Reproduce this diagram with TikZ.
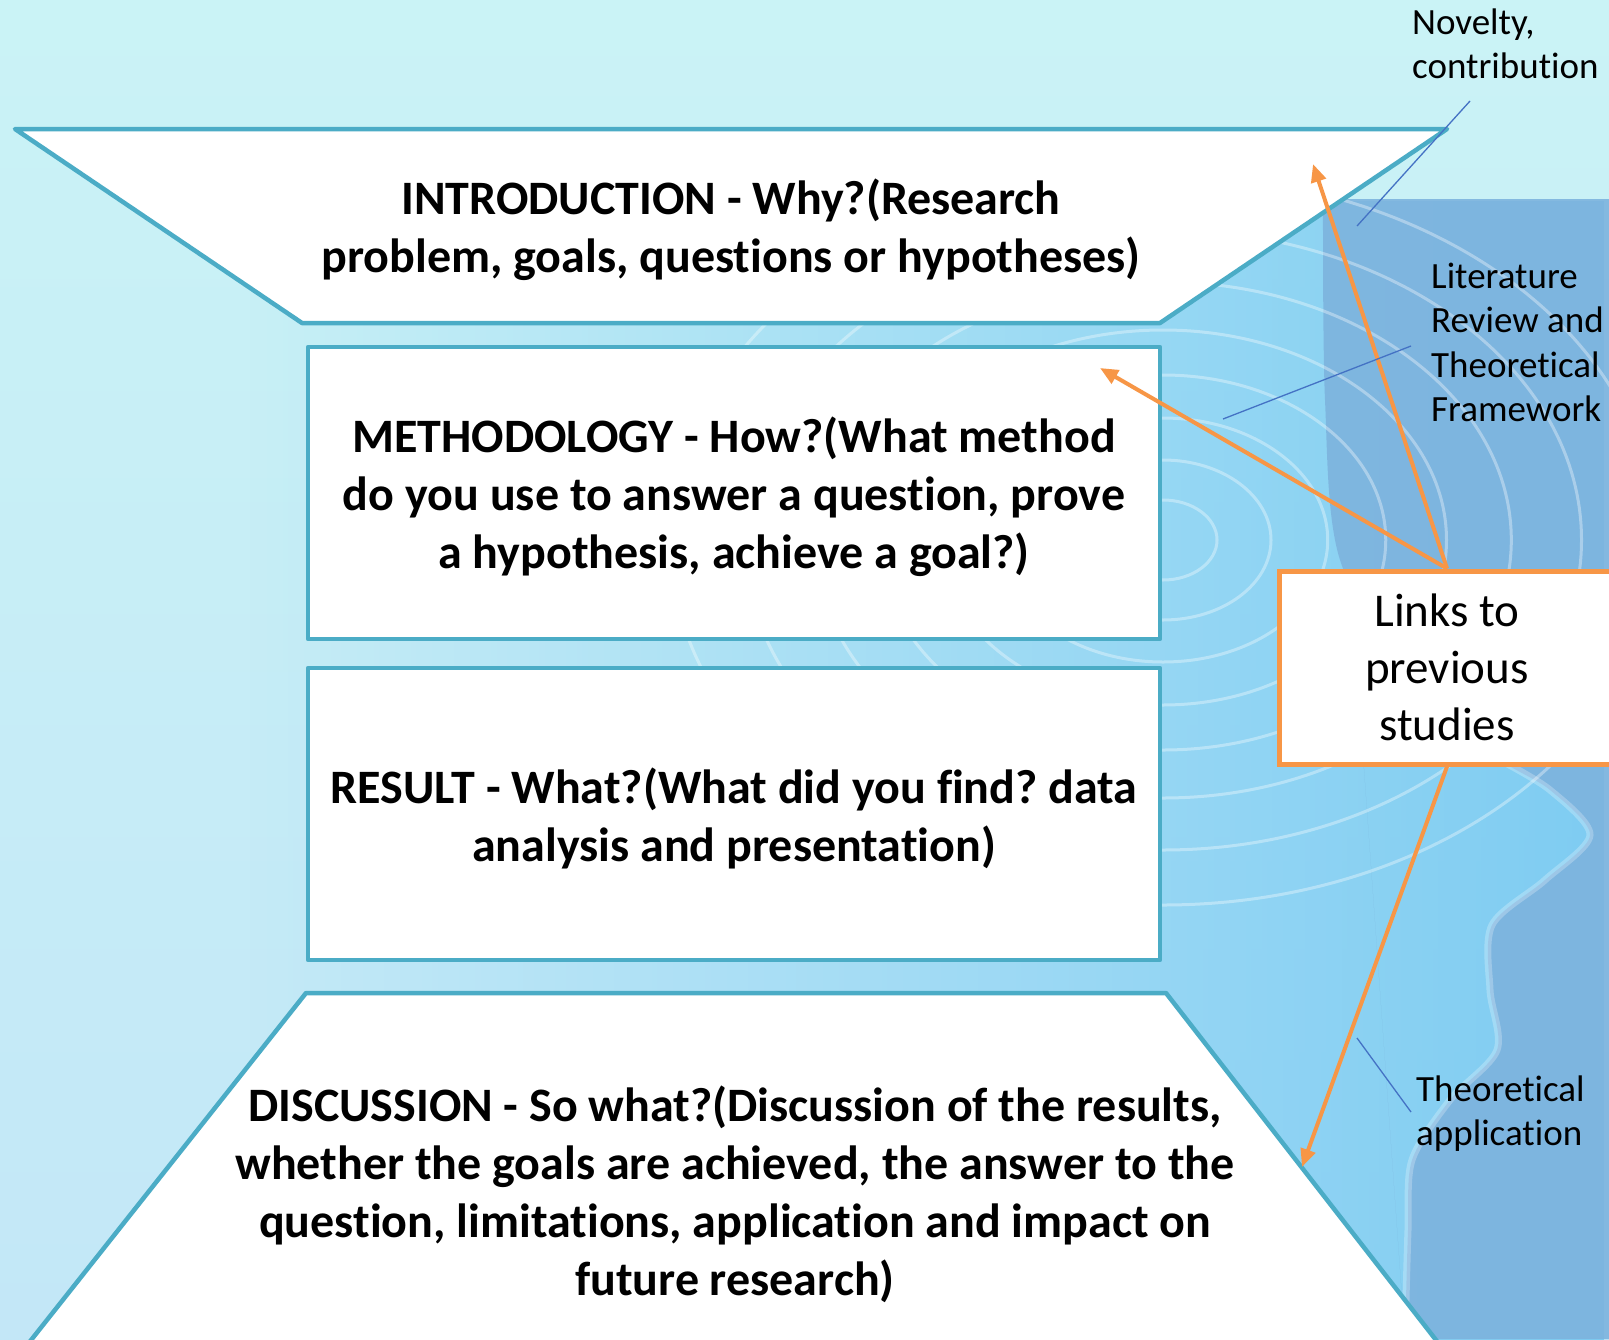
\documentclass[tikz,border=0pt]{standalone}
\usepackage{fontspec}
\setmainfont{Carlito}[Ligatures=NoCommon]
\usetikzlibrary{arrows.meta,fadings}
\frenchspacing
\definecolor{paletop}{HTML}{CAF3F6}
\definecolor{palebot}{HTML}{C3E7F7}
\definecolor{midblue}{HTML}{7ECCF2}
\definecolor{darkblue}{HTML}{7DB3DE}
\definecolor{tealC}{HTML}{4BACC6}
\definecolor{orangeC}{HTML}{F79646}
\definecolor{calloutC}{HTML}{4472C4}
\tikzfading[name=fadeleftin, left color=transparent!100, right color=transparent!0]
\tikzset{
  shapebox/.style={draw=tealC, line width=4.5pt, fill=white, line join=round},
  linkbox/.style={draw=orangeC, line width=5pt, fill=white, minimum width=341pt, minimum height=193pt, inner sep=0pt},
  orangearrow/.style={draw=orangeC, line width=4pt, -{Triangle[length=18pt,width=15pt]}},
  callout/.style={draw=calloutC, line width=1.3pt},
  bigtext/.style={font=\bfseries\fontsize{48}{58}\selectfont, text width=1200pt, align=flush center, anchor=base, inner sep=0pt},
  linktext/.style={font=\fontsize{47}{57}\selectfont, text width=330pt, align=flush center, anchor=base, inner sep=0pt},
  sidelabel/.style={font=\fontsize{37}{44.5}\selectfont, text width=200pt, align=flush left, anchor=base west, inner sep=0pt},
  ripple/.style={draw=white, opacity=0.35, line width=3pt}
}
\begin{document}
\begin{tikzpicture}[x=1pt,y=-1pt]
\useasboundingbox (0,0) rectangle (1609,1339);
\clip (0,0) rectangle (1609,1339);
% background
\shade[top color=paletop, bottom color=palebot] (0,0) rectangle (1609,1339);
\fill[midblue, path fading=fadeleftin] (250,199) rectangle (1609,1339);
\fill[darkblue, opacity=0.9] (1323,199) -- (1609,199) -- (1609,1339) -- (1405,1339)
  plot[smooth] coordinates {(1405,1339) (1408,1230) (1412,1160) (1450,1100) (1497,1050) (1490,990) (1492,925) (1545,880) (1590,835) (1550,790) (1500,760) (1420,700) (1340,560) (1325,400) (1323,199)} -- cycle;
\draw[white, opacity=0.25, line width=7pt] plot[smooth] coordinates {(1405,1339) (1408,1230) (1412,1160) (1450,1100) (1497,1050) (1490,990) (1492,925) (1545,880) (1590,835) (1550,790) (1500,760)};
\foreach \r in {40,80,122,165,210,258,310,365}
  \draw[ripple] (1163,540) ellipse [x radius=1.35*\r, y radius=\r];
% main shapes
\draw[shapebox] (15,129) -- (1447,129) -- (1160,323) -- (302,323) -- cycle;
\draw[shapebox] (308,347) rectangle (1160,639);
\draw[shapebox] (308,668) rectangle (1160,960);
\draw[shapebox] (306,993) -- (1166,993) -- (1443,1349) -- (24,1349) -- cycle;
% texts
\node[bigtext] (intro) at (731,214) {INTRODUCTION - Why?(Research\\problem, goals, questions or hypotheses)};
\node[bigtext] (meth) at (734,452) {METHODOLOGY - How?(What method\\do you use to answer a question, prove\\a hypothesis, achieve a goal?)};
\node[bigtext] (res) at (734,803) {RESULT - What?(What did you find? data\\analysis and presentation)};
\node[bigtext] (disc) at (735,1121) {DISCUSSION - So what?(Discussion of the results,\\whether the goals are achieved, the answer to the\\question, limitations, application and impact on\\future research)};
% links box
\node[linkbox] (links) at (1449.5,667.5) {};
\node[linktext] (linkstxt) at (1447,626) {Links to\\previous\\studies};
% arrow ends
\coordinate (tipIntro) at (1313,164);
\coordinate (tipMeth) at (1100,368);
\coordinate (tipDisc) at (1302,1167);
\draw[orangearrow] (links.north -| linkstxt) -- (tipIntro);
\draw[orangearrow] (links.north -| linkstxt) -- (tipMeth);
\draw[orangearrow] (links.south -| linkstxt) -- (tipDisc);
% side labels and callouts
\node[sidelabel] (nov) at (1412,34) {Novelty,\\contribution};
\node[sidelabel] (lit) at (1431,288) {Literature\\Review and\\Theoretical\\Framework};
\node[sidelabel] (app) at (1416,1101) {Theoretical\\application};
\coordinate (novA) at (1470,101);
\coordinate (novB) at (1357,226);
\coordinate (litA) at (1411,346);
\coordinate (litB) at (1223,419);
\coordinate (appA) at (1357,1038);
\coordinate (appB) at (1411,1112);
\draw[callout] (novA) -- (novB);
\draw[callout] (litA) -- (litB);
\draw[callout] (appA) -- (appB);
\end{tikzpicture}
\end{document}
